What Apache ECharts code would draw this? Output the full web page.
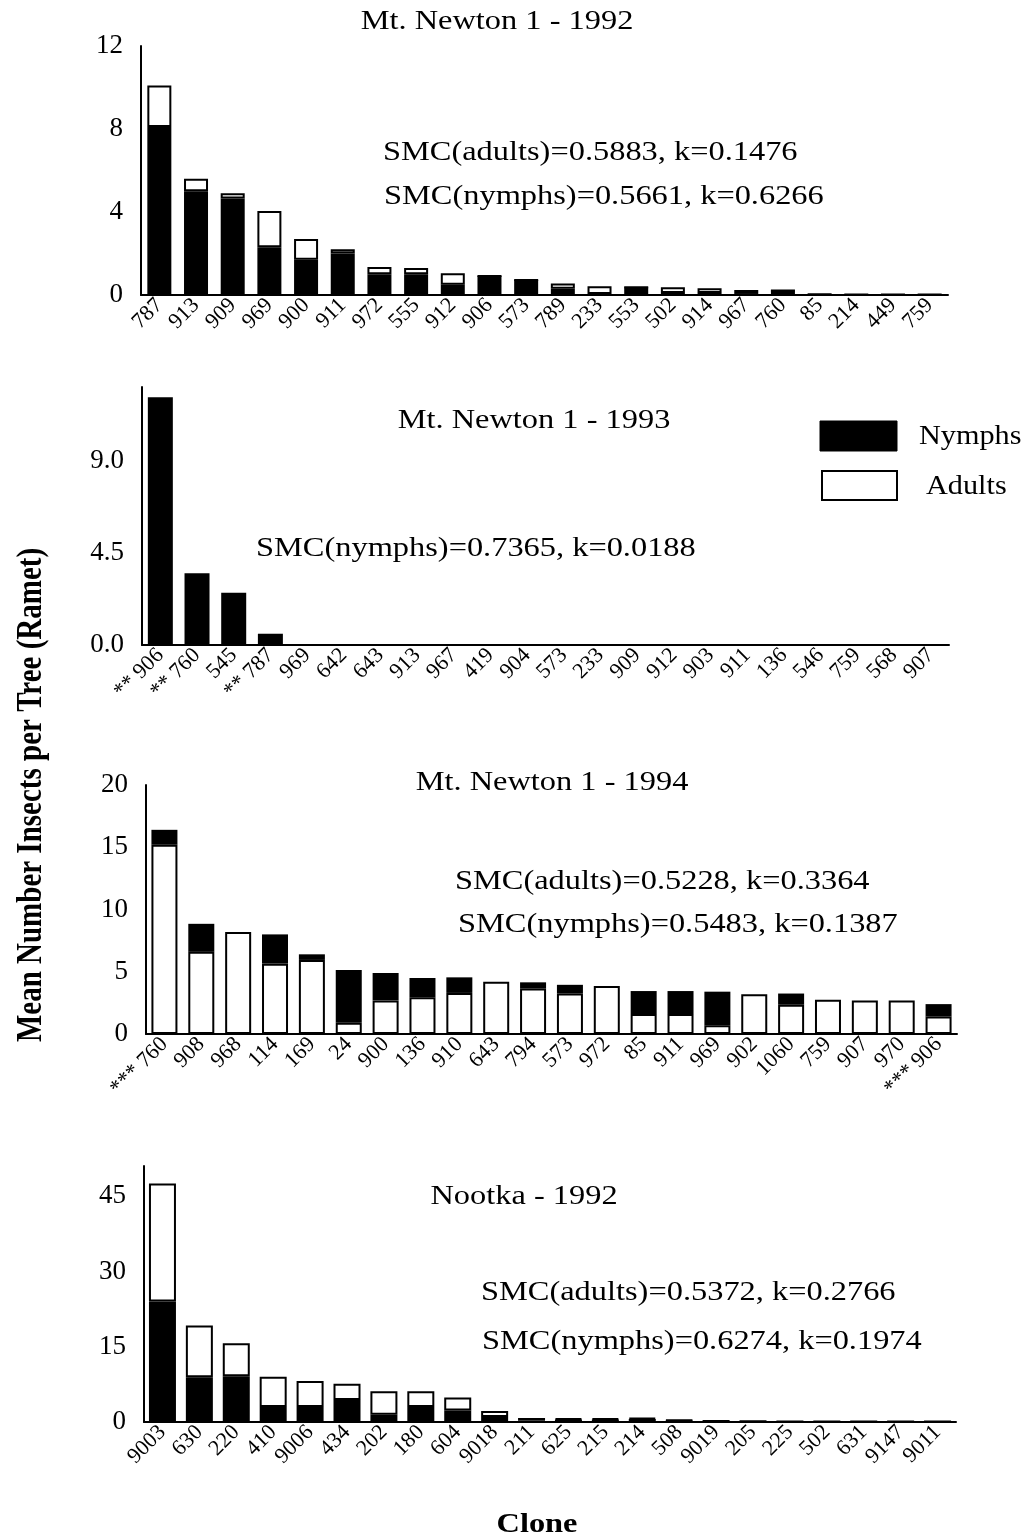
<!DOCTYPE html>
<html>
<head>
<meta charset="utf-8">
<script src="https://cdn.jsdelivr.net/npm/echarts@6/dist/echarts.min.js"></script>
<style>
  html, body { margin: 0; padding: 0; background: #fff; }
  #chart { width: 1033px; height: 1540px; }
</style>
</head>
<body>
<div id="chart"></div>
<script>
// ---- Mt. Newton 1 - 1992 ----
const clones92 = ['787','913','909','969','900','911','972','555','912','906','573','789','233','553','502','914','967','760','85','214','449','759'];
const nymphs92 = [8.1, 5.0, 4.65, 2.3, 1.7, 2.0, 1.0, 1.0, 0.5, 0.92, 0.72, 0.3, 0.05, 0.37, 0.1, 0.1, 0.05, 0.22, 0.04, 0.03, 0.03, 0.03];
const adults92 = [2.0, 0.6, 0.25, 1.75, 1.0, 0.2, 0.35, 0.3, 0.55, 0, 0, 0.25, 0.37, 0, 0.27, 0.22, 0.19, 0, 0, 0, 0, 0];

// ---- Mt. Newton 1 - 1993 (nymphs only) ----
const clones93 = ['** 906','** 760','545','** 787','969','642','643','913','967','419','904','573','233','909','912','903','911','136','546','759','568','907'];
const nymphs93 = [12.1, 3.5, 2.55, 0.55, 0.05, 0.05, 0.05, 0.04, 0.04, 0.04, 0.04, 0.03, 0.03, 0.03, 0.03, 0.03, 0.02, 0.02, 0.02, 0.02, 0.02, 0.02];

// ---- Mt. Newton 1 - 1994 (adults at the base) ----
const clones94 = ['*** 760','908','968','114','169','24','900','136','910','643','794','573','972','85','911','969','902','1060','759','907','970','*** 906'];
const adults94 = [15.2, 6.6, 8.2, 5.65, 5.95, 0.9, 2.7, 2.95, 3.3, 4.2, 3.65, 3.25, 3.85, 1.6, 1.6, 0.7, 3.2, 2.35, 2.75, 2.7, 2.7, 1.4];
const nymphs94 = [1.2, 2.25, 0, 2.35, 0.45, 4.25, 2.2, 1.55, 1.25, 0, 0.5, 0.7, 0, 1.85, 1.85, 2.7, 0, 0.9, 0, 0, 0, 1.0];

// ---- Nootka - 1992 ----
const clonesNootka = ['9003','630','220','410','9006','434','202','180','604','9018','211','625','215','214','508','9019','205','225','502','631','9147','9011'];
const nymphsNootka = [24.0, 8.9, 9.1, 3.0, 3.0, 4.4, 1.45, 3.0, 2.3, 1.0, 0.3, 0.5, 0.5, 0.6, 0.3, 0.2, 0.15, 0.1, 0.1, 0.1, 0.1, 0.1];
const adultsNootka = [23.5, 10.3, 6.6, 6.0, 5.15, 3.2, 4.7, 3.15, 2.6, 1.2, 0.5, 0.2, 0.2, 0.2, 0.1, 0, 0, 0, 0, 0, 0, 0];

// y-axis scales per panel: [max, interval]
const yScale92 = [12, 4];
const yScale93 = [12.6, 4.5];
const yScale94 = [20, 5];
const yScaleNootka = [51, 15];

const legendNames = ['Nymphs', 'Adults'];

const FONT = '"Liberation Serif", "DejaVu Serif", serif';
const WIDE = 1.2; // horizontal stretch of the serif lettering

const panels = [
  { cats: clones92, scale: yScale92, grid: { left: 141, top: 46, width: 807, height: 249 }, barWidth: 24, digits: 0,
    stack: [['Nymphs', nymphs92], ['Adults', adults92]] },
  { cats: clones93, scale: yScale93, grid: { left: 142, top: 387, width: 807, height: 258 }, barWidth: 25, digits: 1,
    stack: [['Nymphs', nymphs93]] },
  { cats: clones94, scale: yScale94, grid: { left: 146, top: 785, width: 811, height: 249 }, barWidth: 26, digits: 0,
    stack: [['Adults', adults94], ['Nymphs', nymphs94]] },
  { cats: clonesNootka, scale: yScaleNootka, grid: { left: 144, top: 1166, width: 812, height: 256 }, barWidth: 27, digits: 0,
    stack: [['Nymphs', nymphsNootka], ['Adults', adultsNootka]] }
];

const nymphStyle = { color: '#000', borderColor: '#000', borderWidth: 0 };
const adultStyle = { color: '#fff', borderColor: '#000', borderWidth: 2 };

const grids = [], xAxes = [], yAxes = [], series = [];
panels.forEach((p, i) => {
  grids.push(Object.assign({}, p.grid));
  xAxes.push({
    type: 'category', gridIndex: i, data: p.cats, boundaryGap: true,
    axisLine: { show: true, lineStyle: { color: '#000', width: 2 } },
    axisTick: { show: false },
    axisLabel: { interval: 0, rotate: 45, margin: 7, color: '#000', fontFamily: FONT, fontSize: 22 },
    splitLine: { show: false }
  });
  yAxes.push({
    type: 'value', gridIndex: i, min: 0, max: p.scale[0], interval: p.scale[1],
    axisLine: { show: true, lineStyle: { color: '#000', width: 2 } },
    axisTick: { show: false },
    splitLine: { show: false },
    axisLabel: {
      showMaxLabel: p.scale[0] % p.scale[1] === 0, margin: 18, color: '#000',
      fontFamily: FONT, fontSize: 27,
      formatter: v => v.toFixed(p.digits)
    }
  });
  p.stack.forEach(([name, values]) => {
    series.push({
      type: 'bar', name, xAxisIndex: i, yAxisIndex: i, stack: 'panel' + i,
      barWidth: p.barWidth, data: values,
      itemStyle: name === 'Nymphs' ? nymphStyle : adultStyle,
      emphasis: { disabled: true }, animation: false
    });
  });
});

const titles = [
  ['Mt. Newton 1 - 1992', 497, 22],
  ['Mt. Newton 1 - 1993', 534, 421],
  ['Mt. Newton 1 - 1994', 552, 783],
  ['Nootka - 1992', 524, 1197]
];
const notes = [
  ['SMC(adults)=0.5883, k=0.1476', 383, 153],
  ['SMC(nymphs)=0.5661, k=0.6266', 384, 197],
  ['SMC(nymphs)=0.7365, k=0.0188', 256, 549],
  ['SMC(adults)=0.5228, k=0.3364', 455, 882],
  ['SMC(nymphs)=0.5483, k=0.1387', 458, 925],
  ['SMC(adults)=0.5372, k=0.2766', 481, 1293],
  ['SMC(nymphs)=0.6274, k=0.1974', 482, 1342]
];

const graphic = [];
const txt = (text, x, y, font, align, extra) => Object.assign({
  type: 'text', x, y, scaleX: WIDE,
  style: { text, fill: '#000', font, textAlign: align, textVerticalAlign: 'middle' }
}, extra || {});

titles.forEach(([t, x, y]) => graphic.push(txt(t, x, y, '27px ' + FONT, 'center')));
notes.forEach(([t, x, y]) => graphic.push(txt(t, x, y, '27px ' + FONT, 'left')));

// axis names
graphic.push(txt('Mean Number Insects per Tree (Ramet)', 32, 795, 'bold 29px ' + FONT, 'center',
  { rotation: Math.PI / 2, scaleX: 1, scaleY: WIDE }));
graphic.push(txt('Clone', 537, 1525, 'bold 27px ' + FONT, 'center'));

// legend key
graphic.push({ type: 'rect', shape: { x: 820, y: 421, width: 77, height: 30 }, style: { fill: '#000', stroke: '#000', lineWidth: 1 } });
graphic.push({ type: 'rect', shape: { x: 822, y: 471, width: 75, height: 29 }, style: { fill: '#fff', stroke: '#000', lineWidth: 2 } });
graphic.push(txt(legendNames[0], 919, 437, '27px ' + FONT, 'left', { scaleX: 1.12 }));
graphic.push(txt(legendNames[1], 926, 487, '27px ' + FONT, 'left', { scaleX: 1.12 }));

const chart = echarts.init(document.getElementById('chart'), null, { renderer: 'canvas' });
chart.setOption({
  backgroundColor: '#fff',
  animation: false,
  grid: grids,
  xAxis: xAxes,
  yAxis: yAxes,
  series,
  graphic
});
</script>
</body>
</html>
